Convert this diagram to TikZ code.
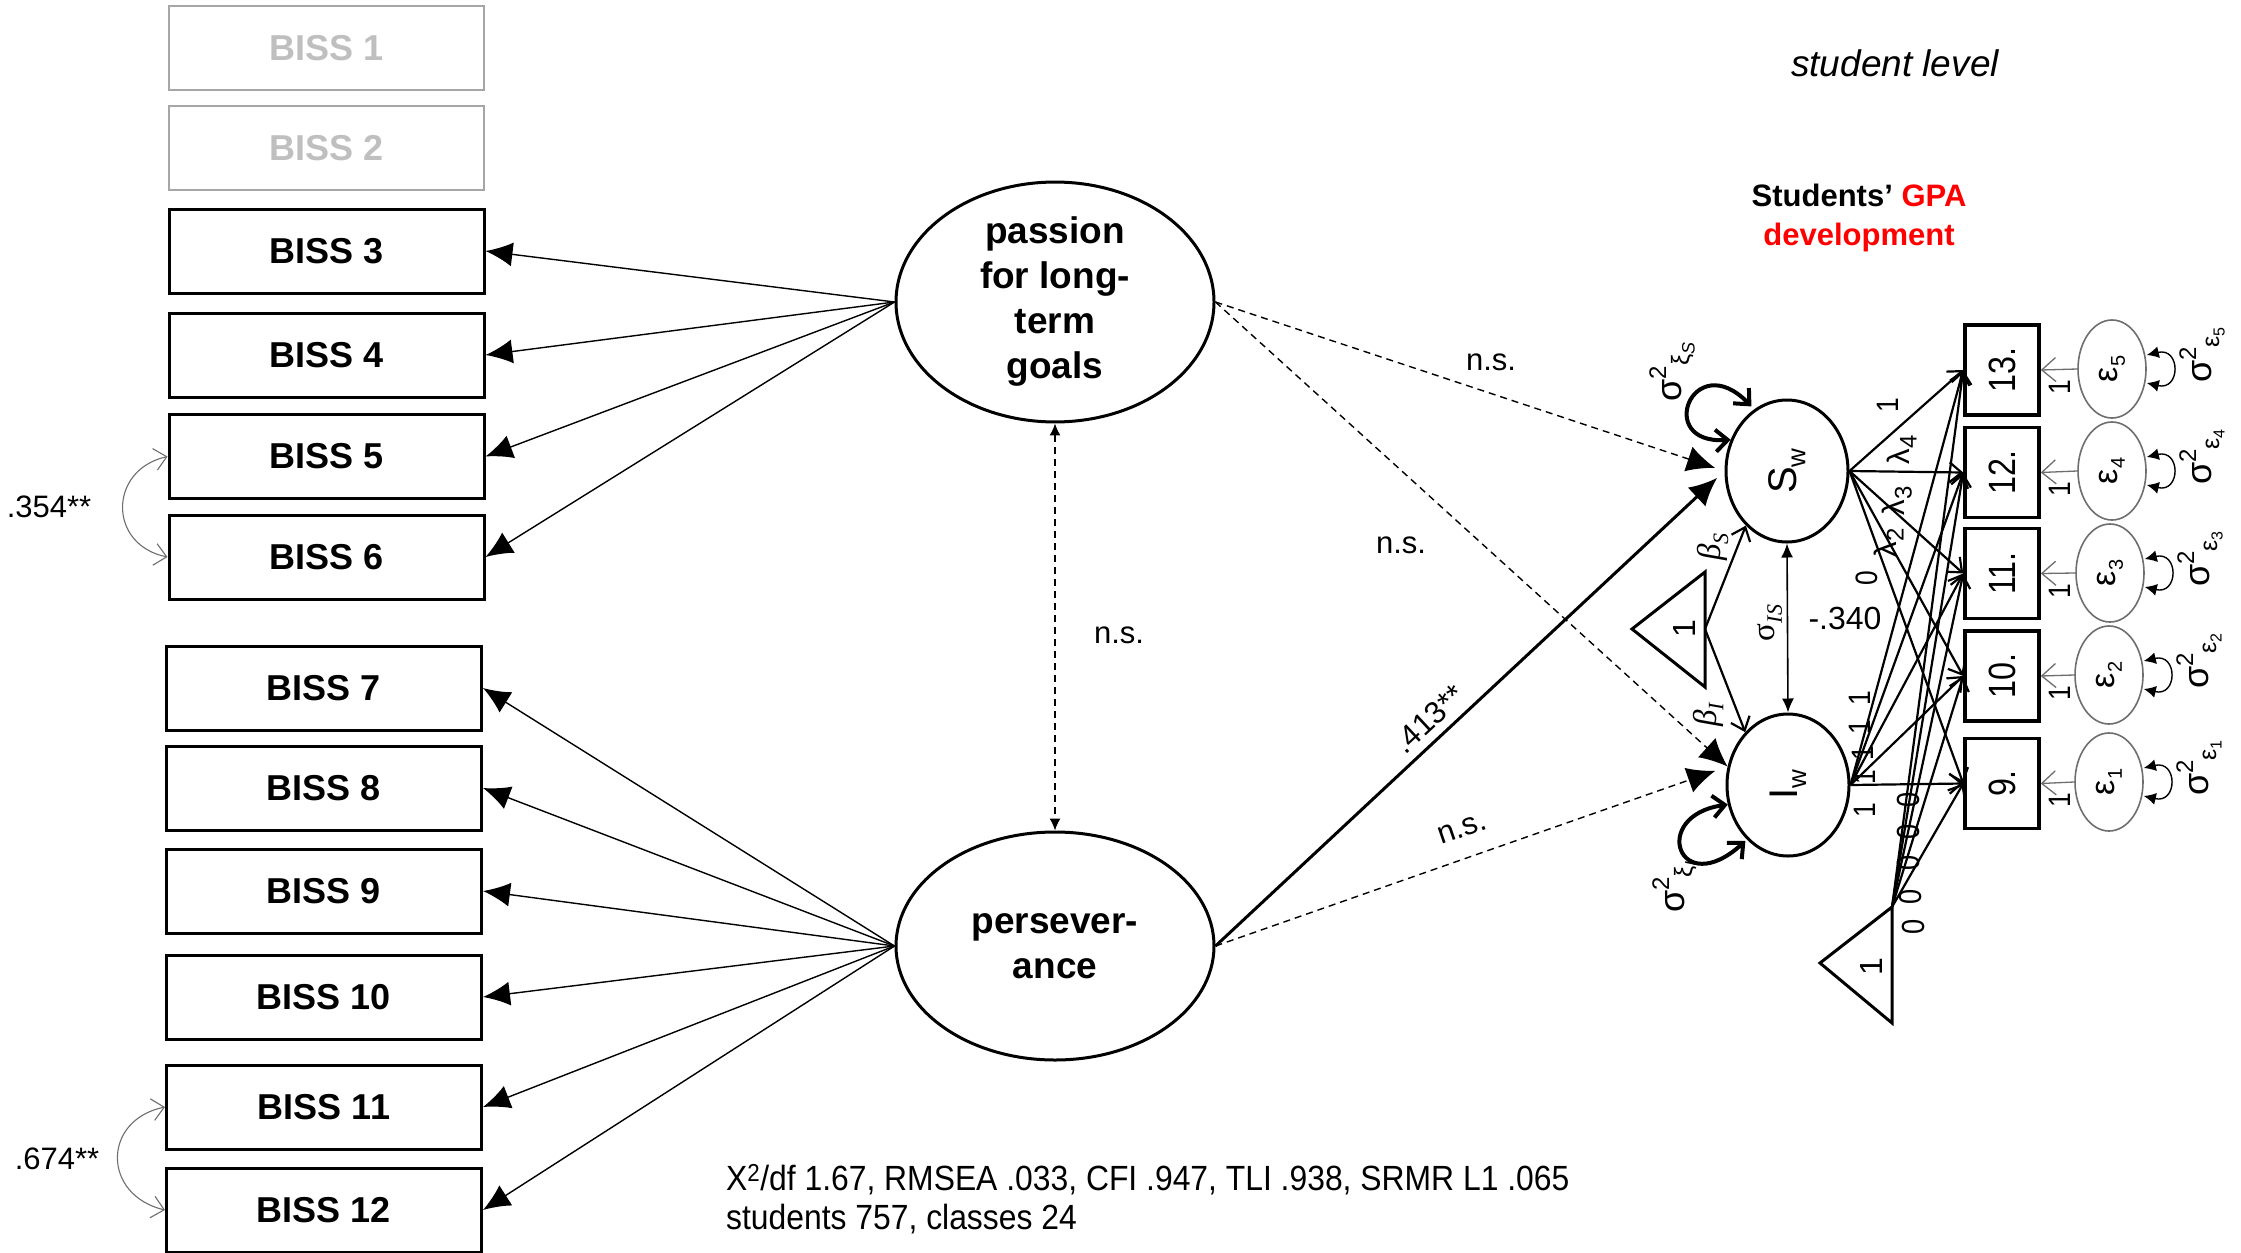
\documentclass[tikz,border=0pt]{standalone}
\usepackage{fontspec}
\setmainfont{Liberation Sans}
\newfontfamily\serifgr{Liberation Serif}
\usetikzlibrary{arrows.meta,shapes.geometric}
\newcommand\fsz[2]{\fontsize{#1}{#2}\selectfont}
\newcommand\sqz[1]{\scalebox{0.85}[1]{#1}}
\newcommand\sqx[2]{\scalebox{#1}[1]{#2}}
\newcommand\rot[1]{\rotatebox{90}{#1}}
\newcommand\lsub[2]{\raisebox{-0.22em}{\fontsize{#1}{#1}\selectfont #2}}
\newcommand\lsup[2]{\raisebox{0.42em}{\fontsize{#1}{#1}\selectfont #2}}
\definecolor{lgray}{HTML}{BFBFBF}
\definecolor{mgray}{HTML}{A6A6A6}
\definecolor{egray}{HTML}{6E6E6E}
\definecolor{gpared}{HTML}{FF0000}
\begin{document}
\begin{tikzpicture}[x=1pt,y=-1pt,
 biss/.style={draw, line width=3pt, minimum width=315pt, minimum height=84pt, inner sep=0pt, font=\fsz{36}{43}\bfseries},
 bissg/.style={biss, draw=mgray, text=lgray, line width=2.4pt},
 lat/.style={ellipse, draw, line width=3pt, minimum width=318pt, minimum height=228pt, inner sep=0pt, align=center, font=\fsz{37}{45}\bfseries},
 load/.style={-{Latex[length=27pt,width=24pt]}, line width=1.4pt},
 corr/.style={{Straight Barb[length=12pt,width=22pt]}-{Straight Barb[length=12pt,width=22pt]}, line width=1.1pt, draw=egray},
 lbl/.style={inner sep=0pt, font=\fsz{31}{37}},
 bigtip/.style={-{Latex[length=28pt,width=26pt]}},
 dsh/.style={dash pattern=on 7pt off 5pt, line width=1.4pt},
 gcirc/.style={ellipse, draw, line width=3pt, minimum width=122pt, minimum height=142pt, inner sep=0pt},
 gbox/.style={draw, line width=3.5pt, minimum width=74pt, minimum height=90pt, inner sep=0pt},
 ecirc/.style={ellipse, draw=egray, line width=1.6pt, minimum width=68pt, minimum height=98pt, inner sep=0pt},
 garr/.style={-{Straight Barb[length=12pt,width=20pt]}, line width=2.2pt},
 earr/.style={-{Straight Barb[length=14pt,width=24pt]}, line width=1.3pt, draw=egray},
 eloop/.style={{Latex[length=12pt,width=12pt]}-{Latex[length=12pt,width=12pt]}, line width=1.4pt},
 sloop/.style={{Straight Barb[length=12pt,width=22pt]}-{Straight Barb[length=12pt,width=22pt]}, line width=4pt},
 rt/.style={rotate=90, inner sep=0pt},
 one/.style={rt, font=\fsz{31}{35}},
]
\fill[white] (0,0) rectangle (2241,1253);
\useasboundingbox (0,0) rectangle (2241,1253);

% ---------- BISS boxes ----------
\node[bissg] (b1) at (326.5,48) {BISS 1};
\node[bissg] (b2) at (326.5,148) {BISS 2};
\node[biss] (b3) at (326.5,251) {BISS 3};
\node[biss] (b4) at (326.5,355) {BISS 4};
\node[biss] (b5) at (326.5,456.5) {BISS 5};
\node[biss] (b6) at (326.5,557) {BISS 6};
\node[biss] (b7) at (324,688) {BISS 7};
\node[biss] (b8) at (324,788) {BISS 8};
\node[biss] (b9) at (324,891) {BISS 9};
\node[biss] (b10) at (324,997) {BISS 10};
\node[biss] (b11) at (324,1107) {BISS 11};
\node[biss] (b12) at (324,1210) {BISS 12};

% ---------- latent factors ----------
\node[lat] (pas) at (1055,302) {passion\\for long-\\term\\goals};
\node[lat] (per) at (1055,946) {persever-\\ance};

\foreach \b in {b3,b4,b5,b6} \draw[load] (pas.west) -- (\b.east);
\foreach \b in {b7,b8,b9,b10,b11,b12} \draw[load] (per.west) -- (\b.east);

\draw[corr] (b5.west) .. controls (108,470) and (108,545) .. (b6.west);
\draw[corr] (b11.west) .. controls (102,1120) and (102,1195) .. (b12.west);
\node[lbl] (c1) at (49,507) {.354**};
\node[lbl] (c2) at (57,1159) {.674**};

\draw[dsh, {Latex[length=12pt,width=11pt]}-{Latex[length=12pt,width=11pt]}] (pas.south) -- (per.north);
\node[lbl] (ns0) at (1119,635) {n.s.};

% ---------- growth model ----------
\node[gcirc] (sw) at (1787,471) {\rot{\fsz{40}{44}S\lsub{26}{w}}};
\node[gcirc] (iw) at (1788,785) {\rot{\fsz{40}{44}I\lsub{26}{w}}};

\node[gbox] (g13) at (2002,370) {\rot{\fsz{38}{44}\sqz{13.}}};
\node[gbox] (g12) at (2002,472.5) {\rot{\fsz{38}{44}\sqz{12.}}};
\node[gbox] (g11) at (2002,573.5) {\rot{\fsz{38}{44}\sqz{11.}}};
\node[gbox] (g10) at (2002,676) {\rot{\fsz{38}{44}\sqz{10.}}};
\node[gbox] (g9) at (2002,783.5) {\rot{\fsz{38}{44}\sqz{9.}}};

\foreach \i/\k/\x/\y in {5/13/2112/369, 4/12/2112/471, 3/11/2110/573, 2/10/2109/675, 1/9/2109/782}{
  \node[ecirc] (e\i) at (\x,\y) {\rot{\fsz{34}{38}ε\lsub{20}{\i}}};
  \draw[earr] (e\i.west) -- (g\k.east);
  \node[one] at (2060,\y+18) {\sqz{1}};
  \draw[eloop] ([yshift=14pt]e\i.east) .. controls +(34,-8) and +(34,8) .. ([yshift=-14pt]e\i.east);
  \node[rt, font=\fsz{36}{40}] at (\x+90,\y-14) {σ\lsup{24}{2}\lsub{25}{ε\lsub{16}{\i}}};
}

% triangles
\draw[line width=3pt] (1632,629) -- (1705,572) -- (1705,687) -- cycle;
\coordinate (t1) at (1705,629);
\node[one, font=\fsz{32}{36}] at (1684,629) {1};
\draw[line width=3pt] (1820,963) -- (1892,907) -- (1892,1023) -- cycle;
\coordinate (t2) at (1892,907);
\node[one, font=\fsz{32}{36}] at (1871,967) {1};

\draw[garr] (t1) -- (sw.233);
\draw[garr] (t1) -- (iw.129);
\node[rt, font=\fsz{33}{36}\serifgr\itshape] at (1713,547) {β\lsub{22}{S}};
\node[rt, font=\fsz{33}{36}\serifgr\itshape] at (1708,715) {β\lsub{22}{I}};

% covariance
\draw[{Latex[length=14pt,width=12pt]}-{Latex[length=14pt,width=12pt]}, line width=1.6pt] (sw.south) -- (iw.north);
\node[rt, font=\fsz{33}{36}\serifgr] at (1770,623) {σ\lsub{22}{\itshape IS}};
\node[lbl, font=\fsz{32}{38}] at (1845,618) {-.340};

% variance loops
\draw[sloop, shorten >=4pt] (sw.151) .. controls +(-77,5) and +(-61,-63) .. (sw.118);
\draw[sloop, shorten >=2pt] (iw.198) .. controls +(-79,11) and +(-68,62) .. (iw.233);
\node[rt, font=\fsz{36}{40}] at (1672,372) {σ\lsup{24}{2}\lsub{25}{ξ\lsub{18}{\itshape S}}};
\node[rt, font=\fsz{36}{40}] at (1675,887) {σ\lsup{24}{2}\lsub{25}{ξ\lsub{18}{\itshape I}}};

% loadings
\foreach \k in {13,12,11,10,9}{
  \draw[garr] (sw.east) -- (g\k.west);
  \draw[garr] (iw.east) -- (g\k.west);
  \draw[garr] (t2) -- (g\k.west);
}
\node[one] at (1888,405) {\sqz{1}};
\node[one] at (1902,450) {λ\lsub{24}{4}};
\node[one] at (1897,501) {λ\lsub{24}{3}};
\node[one] at (1889,543) {λ\lsub{24}{2}};
\node[one] at (1867,578) {\sqz{0}};
\foreach \y/\x in {698/1860,727/1860,753/1863,777/1865,810/1865} \node[one] at (\x,\y) {\sqz{1}};
\foreach \y/\x in {800/1908,832/1908,863/1908,897/1910,927/1913} \node[one, font=\fsz{32}{36}] at (\x,\y) {\sqz{0}};

% structural paths
\draw[dsh, bigtip, shorten >=10pt] (pas.east) -- (sw.west);
\draw[dsh, bigtip] (pas.east) -- (iw.163);
\draw[line width=3pt, bigtip, shorten >=10pt] (per.east) -- (sw.west);
\draw[dsh, bigtip, shorten >=13pt] (per.east) -- (iw.163);
\node[lbl] (ns1) at (1491,362) {n.s.};
\node[lbl] (ns2) at (1401,545) {n.s.};
\node[lbl, rotate=43] (p413) at (1429,719) {.413**};
\node[lbl, rotate=19] (ns3) at (1462,829) {n.s.};

% titles
\node[inner sep=0pt, font=\fsz{37}{44}\itshape] (lev) at (1895,63) {student level};
\node[inner sep=0pt, align=center, font=\fsz{31}{38.6}\bfseries] (gpa) at (1859,218) {Students’ \textcolor{gpared}{GPA}\\\textcolor{gpared}{development}};

\node[anchor=west, inner sep=0pt, align=left, font=\fsz{35}{39}] (fit) at (726,1199.5)
 {\sqx{0.91}{X\textsuperscript{2}/df 1.67, RMSEA .033, CFI .947, TLI .938, SRMR L1 .065}\\\sqx{0.91}{students 757, classes 24}};
\end{tikzpicture}
\end{document}
